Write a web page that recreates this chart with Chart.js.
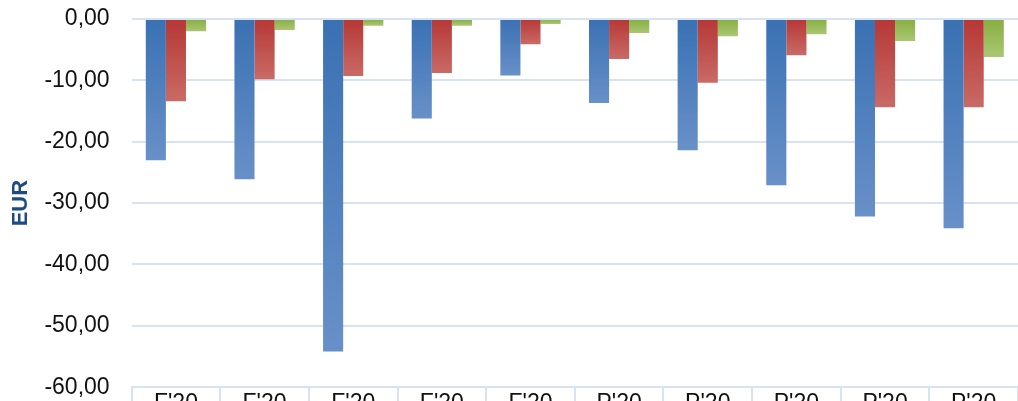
<!DOCTYPE html>
<html>
<head>
<meta charset="utf-8">
<script src="https://cdn.jsdelivr.net/npm/chart.js@4/dist/chart.umd.min.js"></script>
<style>
  html, body { margin: 0; padding: 0; background: #fff; overflow: hidden; }
  #wrap { width: 1018px; height: 401px; position: relative; }
</style>
</head>
<body>
<div id="wrap"><canvas id="eurChart"></canvas></div>
<script>
const categories = ["F'20", "F'20", "F'20", "F'20", "F'20", "P'20", "P'20", "P'20", "P'20", "P'20"];
const blueValues = [-23.0, -26.1, -54.2, -16.2, -9.2, -13.7, -21.4, -27.1, -32.2, -34.1];
const redValues = [-13.4, -9.8, -9.3, -8.8, -4.1, -6.5, -10.4, -5.9, -14.4, -14.4];
const greenValues = [-2.0, -1.8, -1.1, -1.1, -0.8, -2.3, -2.8, -2.5, -3.6, -6.2];
const yTicks = [0, -10, -20, -30, -40, -50, -60];

// vertical gradient along each bar, darker at the zero line
function barGradient(top, bottom) {
  return (context) => {
    const chart = context.chart;
    if (!chart.chartArea || context.raw === undefined) return top;
    const y = chart.scales.y;
    const y0 = y.getPixelForValue(0);
    const y1 = y.getPixelForValue(context.raw);
    if (Math.abs(y1 - y0) < 1) return top;
    const g = chart.ctx.createLinearGradient(0, y0, 0, y1);
    g.addColorStop(0, top);
    g.addColorStop(1, bottom);
    return g;
  };
}

const font = "'Liberation Sans', Arial, sans-serif";

new Chart(document.getElementById("eurChart"), {
  type: "bar",
  data: {
    labels: categories,
    datasets: [
      { label: "A", data: blueValues, backgroundColor: barGradient("#3a71b3", "#6890c8") },
      { label: "B", data: redValues, backgroundColor: barGradient("#b63835", "#c96a66") },
      { label: "C", data: greenValues, backgroundColor: barGradient("#88ae40", "#a9c772") },
    ],
  },
  options: {
    responsive: true,
    maintainAspectRatio: false,
    animation: false,
    categoryPercentage: 0.68,
    barPercentage: 1.0,
    layout: { padding: { top: 19, left: 8, right: 0, bottom: 0 } },
    plugins: {
      legend: { display: false },
      tooltip: { enabled: false },
    },
    scales: {
      x: {
        grid: {
          offset: true,
          drawOnChartArea: false,
          drawTicks: true,
          tickLength: 43,
          color: "#d6e3f3",
          lineWidth: 2,
        },
        border: { display: true, color: "#d6e3f3", width: 2 },
        ticks: {
          color: "#111",
          mirror: true,
          padding: -30,
          font: { family: font, size: 23 },
          maxRotation: 0,
          autoSkip: false,
        },
      },
      y: {
        min: -60,
        max: 0,
        afterBuildTicks: (axis) => { axis.ticks = yTicks.map((v) => ({ value: v })); },
        grid: { color: "#d6e3f3", lineWidth: 2, drawTicks: true, tickLength: 22, tickColor: "rgba(0,0,0,0)" },
        border: { display: false },
        ticks: {
          color: "#111",
          padding: 0,
          font: { family: font, size: 23 },
          callback: (v) => v.toFixed(2).replace(".", ","),
        },
        title: {
          display: true,
          text: "EUR",
          color: "#1f4b85",
          padding: { top: 0, bottom: 10 },
          font: { family: font, size: 22, weight: "bold" },
        },
      },
    },
  },
});
</script>
</body>
</html>
